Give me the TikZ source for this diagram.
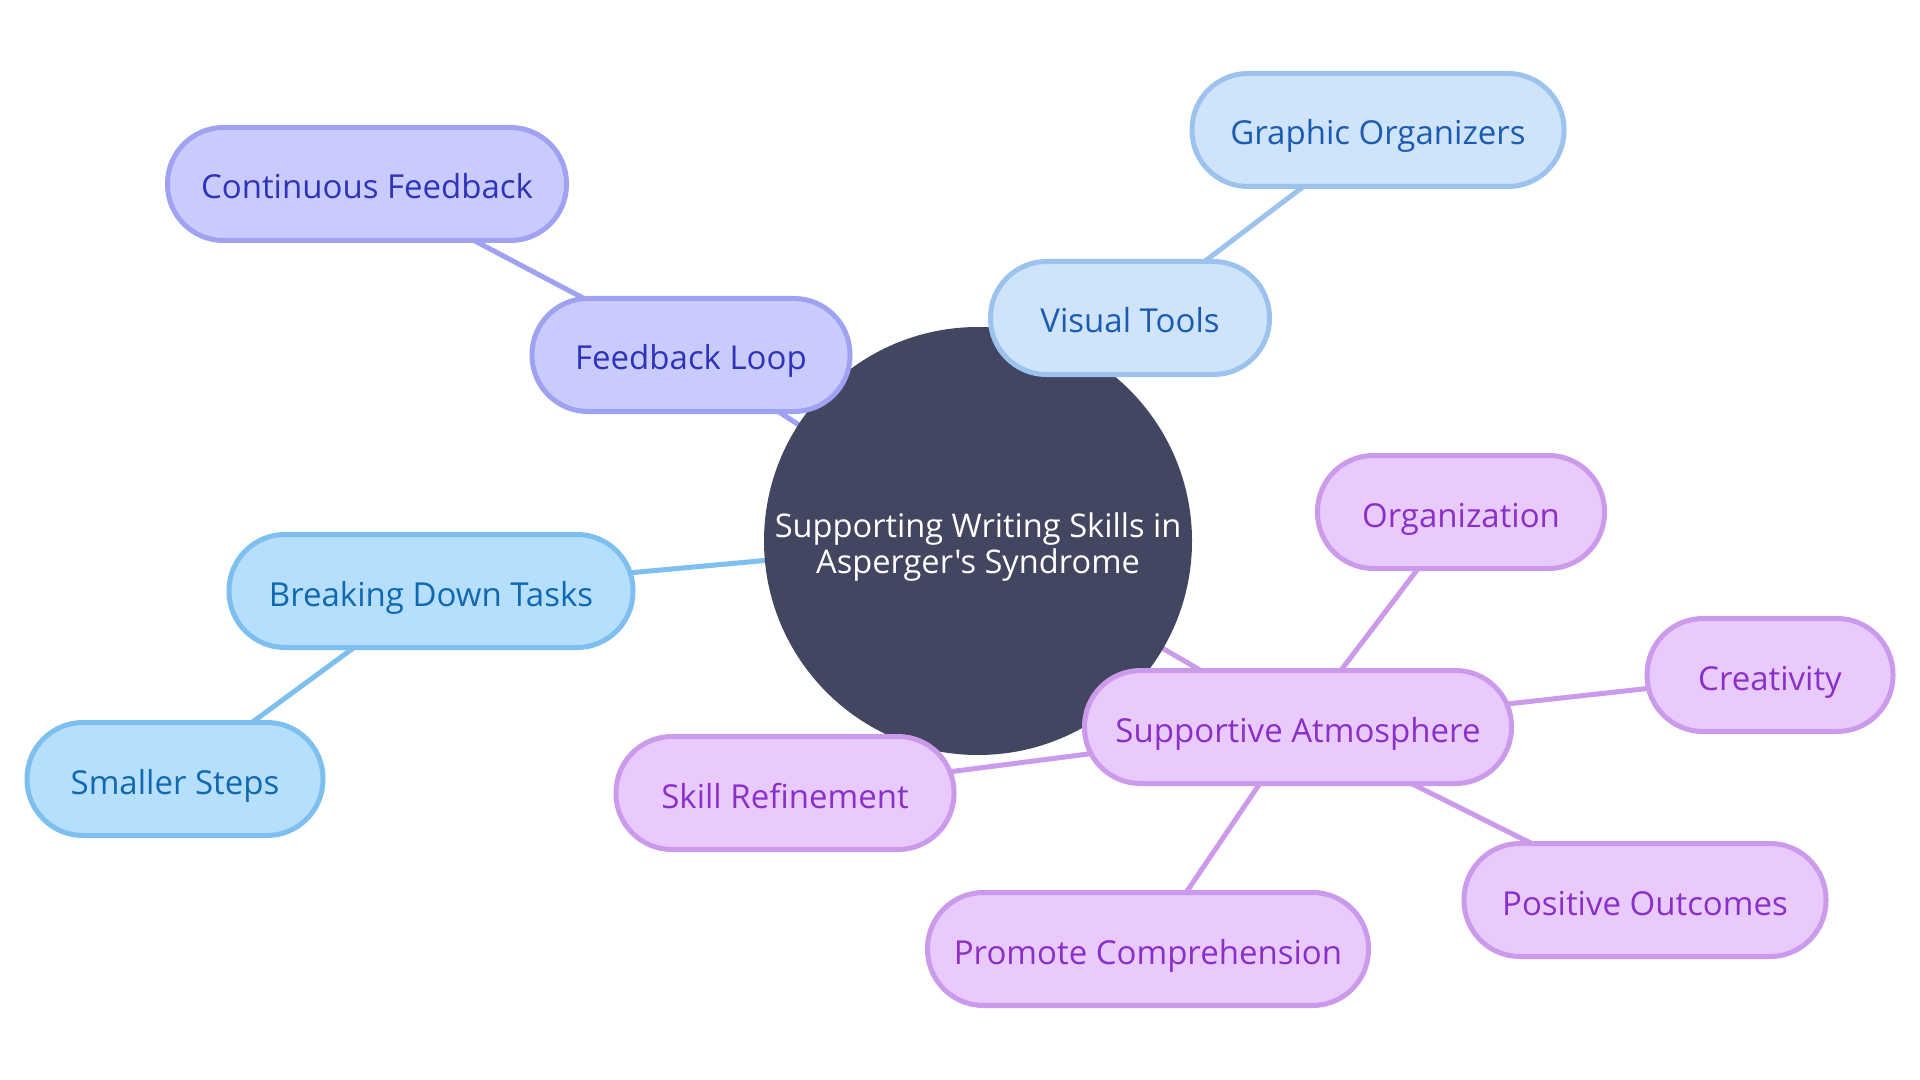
\documentclass[tikz,border=0pt]{standalone}
\usepackage{fontspec}
\setmainfont{Open Sans}[Ligatures=TeXOff]
\usetikzlibrary{backgrounds}
\definecolor{cdark}{HTML}{424660}
\definecolor{fbfill}{HTML}{C9CBFD}
\definecolor{fbline}{HTML}{9EA2F0}
\definecolor{fbtext}{HTML}{2E33B8}
\definecolor{vtfill}{HTML}{CFE3FA}
\definecolor{vtline}{HTML}{9CC3EE}
\definecolor{vttext}{HTML}{1A5CB0}
\definecolor{bdfill}{HTML}{B5DFFC}
\definecolor{bdline}{HTML}{7DBFEE}
\definecolor{bdtext}{HTML}{1068B0}
\definecolor{safill}{HTML}{E8CBFC}
\definecolor{saline}{HTML}{CC9AEA}
\definecolor{satext}{HTML}{8B2FC9}
\tikzset{
  pill/.style={rectangle, rounded corners=28pt, minimum height=56.5pt, inner xsep=0pt,
    line width=2.5pt, font=\fontsize{16.5}{18}\selectfont, text height=16pt, text depth=1pt},
  fbnode/.style={pill, fill=fbfill, draw=fbline, text=fbtext},
  vtnode/.style={pill, fill=vtfill, draw=vtline, text=vttext},
  bdnode/.style={pill, fill=bdfill, draw=bdline, text=bdtext},
  sanode/.style={pill, fill=safill, draw=saline, text=satext},
  link/.style={line width=2.5pt},
  rootnode/.style={circle, fill=cdark, minimum size=214pt, inner sep=0pt, text=white,
    align=center, font=\fontsize{16.3}{17.75}\selectfont}
}
\begin{document}
\begin{tikzpicture}[x=0.5pt, y=-0.5pt]
\useasboundingbox (0,0) rectangle (1920,1080);
\node[rootnode] (root) at (978,541) {\rule{0pt}{18.5pt}Supporting Writing Skills in\\Asperger's Syndrome};
\node[fbnode, minimum width=159pt] (fl) at (691,355) {Feedback Loop};
\node[fbnode, minimum width=199.5pt] (cf) at (367,184) {Continuous Feedback};
\node[vtnode, minimum width=139.5pt] (vt) at (1130,318) {Visual Tools};
\node[vtnode, minimum width=186pt] (go) at (1378,130) {Graphic Organizers};
\node[bdnode, minimum width=202pt] (bd) at (431,591) {Breaking Down Tasks};
\node[bdnode, minimum width=148pt] (ss) at (175,779) {Smaller Steps};
\node[sanode, minimum width=213.5pt] (sa) at (1298,727) {Supportive Atmosphere};
\node[sanode, minimum width=143.5pt] (or) at (1461,512) {Organization};
\node[sanode, minimum width=123pt] (cr) at (1770,675) {Creativity};
\node[sanode, minimum width=169pt] (sr) at (785,793) {Skill Refinement};
\node[sanode, minimum width=181pt] (po) at (1645,900) {Positive Outcomes};
\node[sanode, minimum width=220.5pt] (pc) at (1148,949) {Promote Comprehension};
\begin{scope}[on background layer]
\fill[white] (0,0) rectangle (1920,1080);
\draw[link, fbline] (root.center) -- (fl.center);
\draw[link, fbline] (fl.center) -- (cf.center);
\draw[link, vtline] (root.center) -- (vt.center);
\draw[link, vtline] (vt.center) -- (go.center);
\draw[link, bdline] (root.center) -- (bd.center);
\draw[link, bdline] (bd.center) -- (ss.center);
\draw[link, saline] (root.center) -- (sa.center);
\draw[link, saline] (sa.center) -- (or.center);
\draw[link, saline] (sa.center) -- (cr.center);
\draw[link, saline] (sa.center) -- (po.center);
\draw[link, saline] (sa.center) -- (pc.center);
\draw[link, saline] (sa.center) -- (sr.center);
\end{scope}
\end{tikzpicture}
\end{document}
